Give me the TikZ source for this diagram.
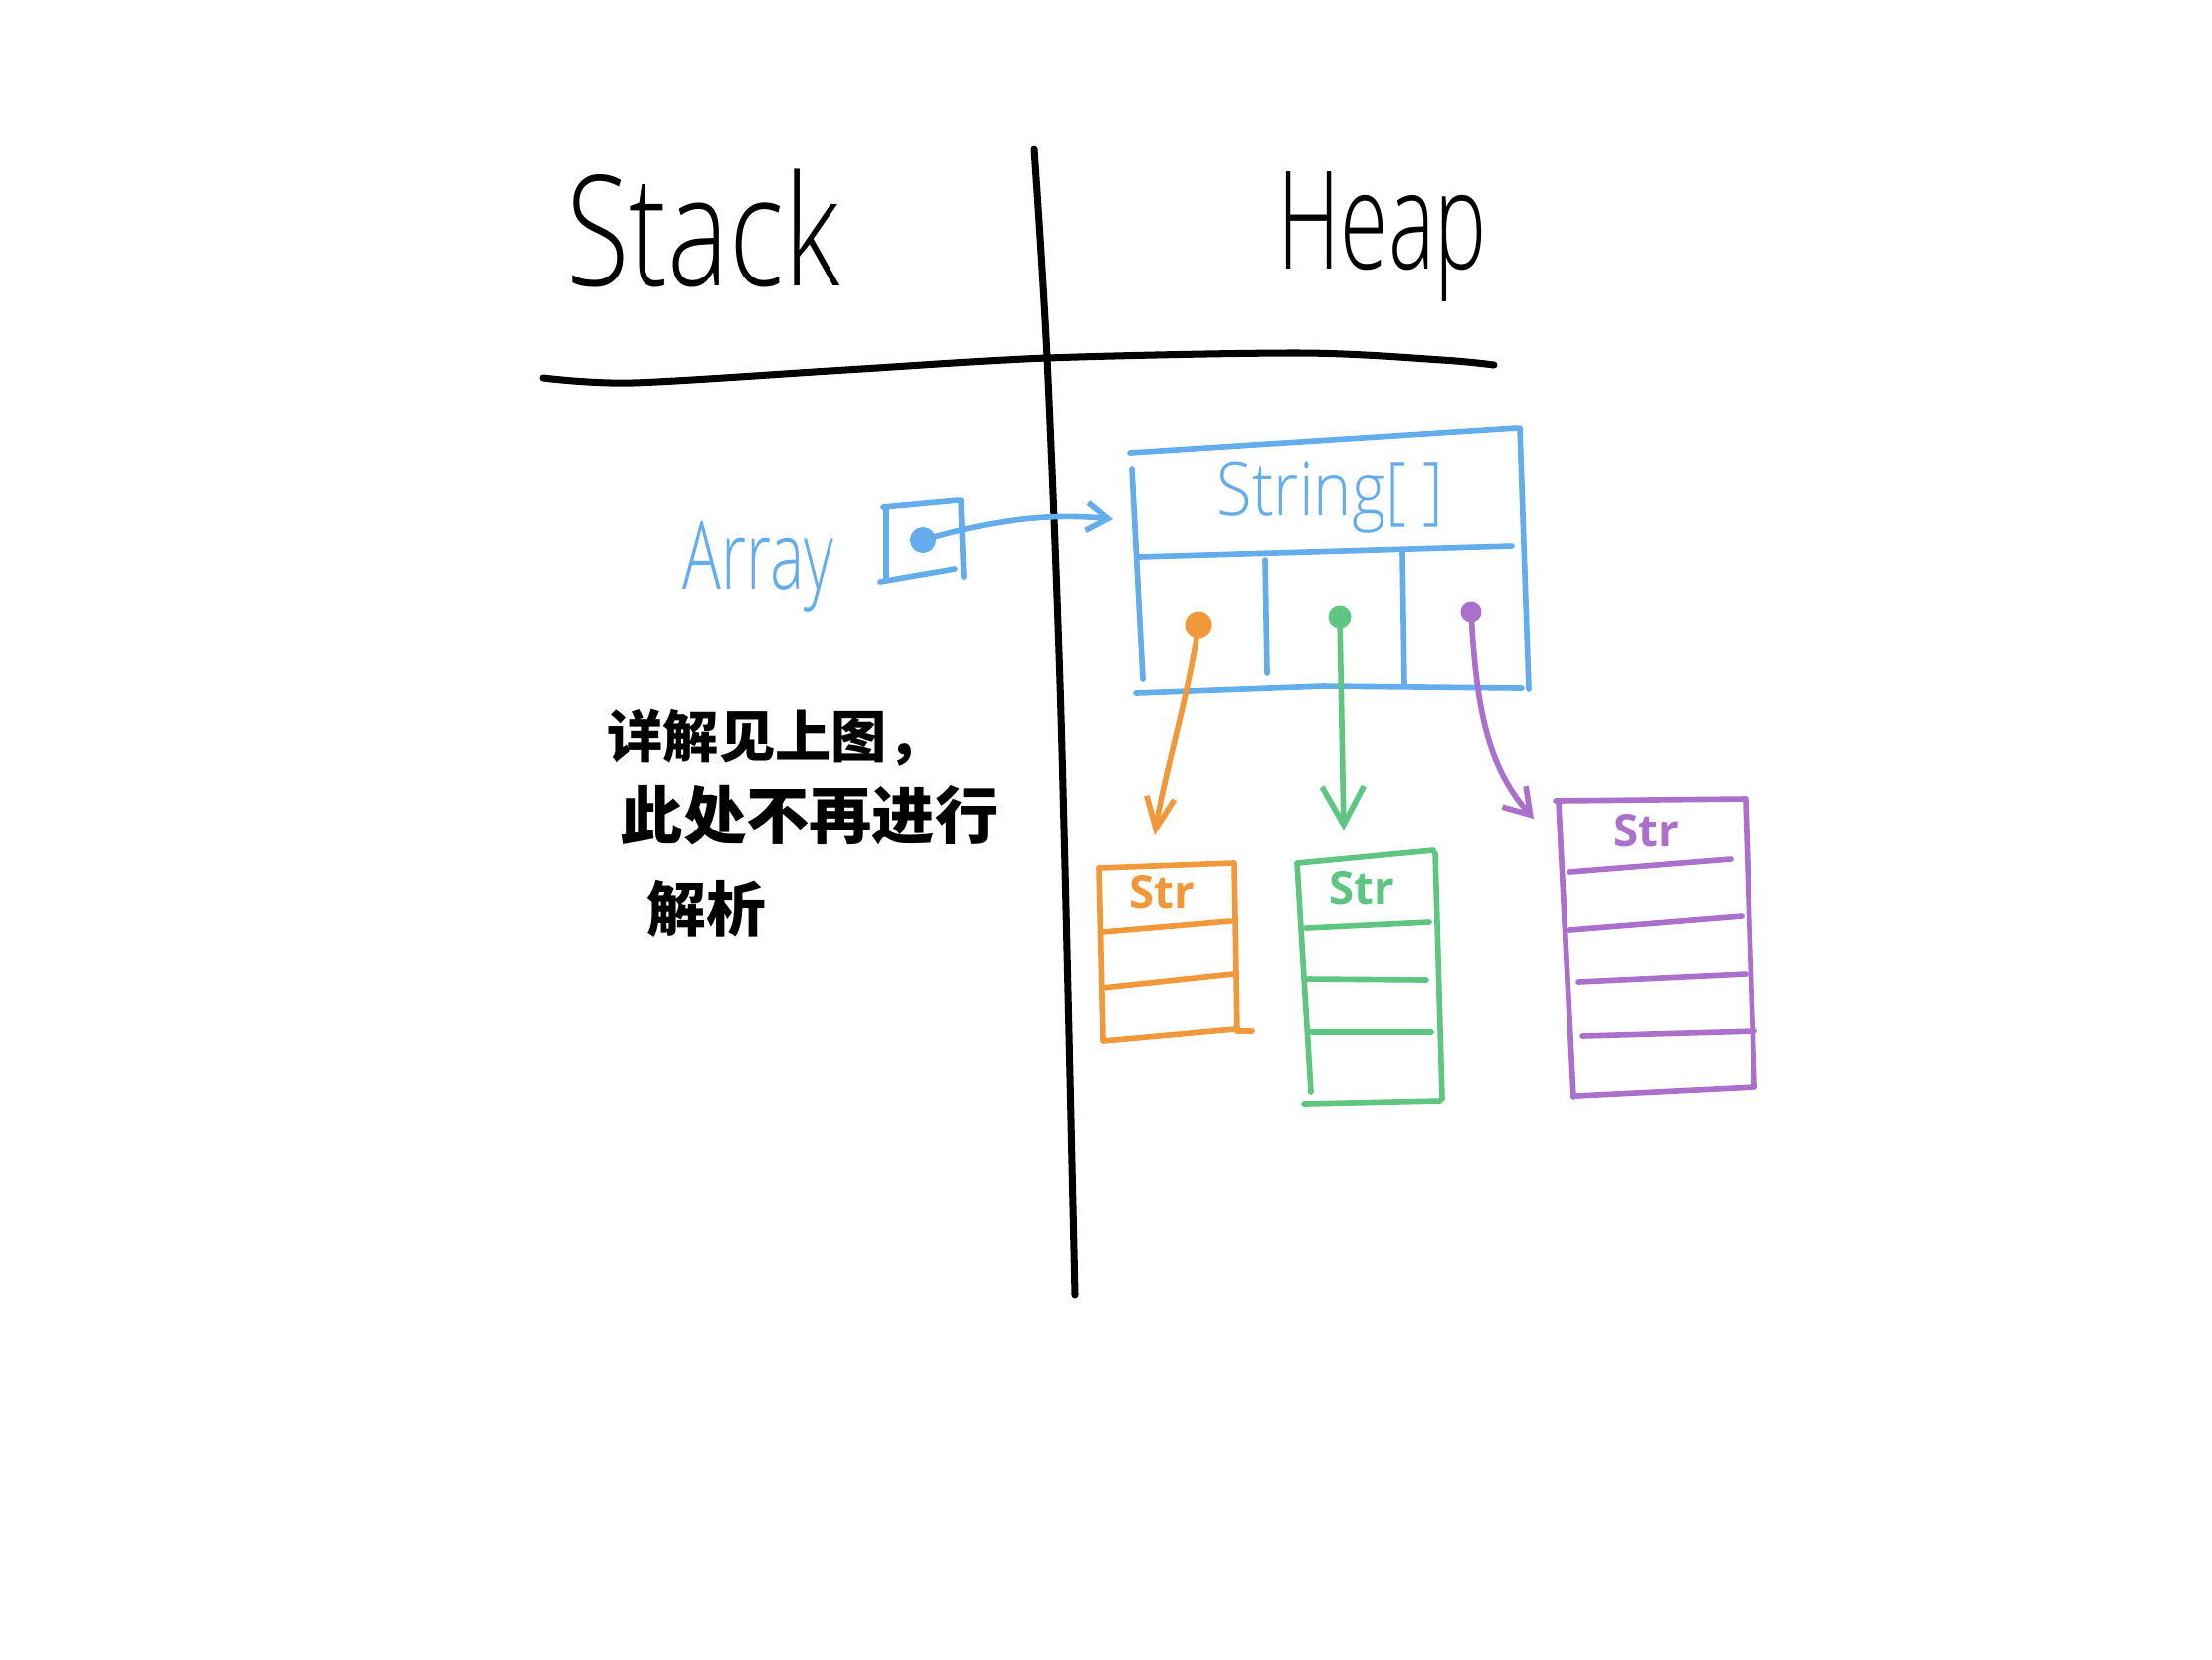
\documentclass[tikz,border=0pt]{standalone}
\usepackage{fontspec}
\usepackage{graphicx}
\setmainfont{Open Sans}
\newfontfamily\thinf{Open Sans Light}
\newfontfamily\cjk{Noto Sans CJK SC}
\usetikzlibrary{arrows.meta}
\definecolor{cblue}{RGB}{99,173,236}
\definecolor{corange}{RGB}{241,153,58}
\definecolor{cgreen}{RGB}{94,198,128}
\definecolor{cpurple}{RGB}{171,112,203}
\begin{document}
\begin{tikzpicture}[x=0.01cm,y=-0.01cm,line cap=round,line join=round,
  blk/.style={line width=2pt,black},
  bl/.style={line width=1.6pt,cblue},
  orp/.style={line width=1.6pt,corange},
  grp/.style={line width=1.6pt,cgreen},
  pup/.style={line width=1.6pt,cpurple},
  dot/.style={circle,inner sep=0pt,draw=none},
  lbl/.style={inner sep=0pt,anchor=base west},
  strlbl/.style={inner sep=0pt,anchor=center,font=\bfseries\fontsize{13}{13}\selectfont}]
\useasboundingbox[fill=white] (0,0) rectangle (2224,1668);

% axes
\draw[blk] plot[smooth] coordinates {(1040,150) (1053,360) (1067,720) (1081,1302)};
\draw[blk] plot[smooth] coordinates {(546,380) (636,385) (850,372) (1053,360) (1309,355) (1450,362) (1502,367)};

% titles
\node[lbl,font=\thinf\fontsize{44}{44}\selectfont] (stack) at (569,287) {\scalebox{0.75}[1]{Stack}};
\node[lbl,font=\thinf\fontsize{39}{39}\selectfont] (heap) at (1284,270) {\scalebox{0.64}[1]{Heap}};

% Array variable
\node[lbl,font=\thinf\fontsize{27}{27}\selectfont,text=cblue] (arr) at (686,592) {\scalebox{0.68}[1]{Array}};
\draw[bl] (888,510) -- (963,503);
\draw[bl] (966,503) -- (969,580);
\draw[bl] (885,585) -- (960,572);
\draw[bl] (891,512) -- (891,583);

% String[] box
\draw[bl] (1136,455) -- (1525,430);
\draw[bl] (1528,430) -- (1537,693);
\draw[bl] (1142,697) -- (1330,690) -- (1530,692);
\draw[bl] (1138,472) -- (1149,683);
\draw[bl] (1145,560) -- (1520,549);
\draw[bl] (1272,563) -- (1274,677);
\draw[bl] (1410,555) -- (1412,690);
\node[lbl,font=\thinf\fontsize{21}{21}\selectfont,text=cblue] (strarr) at (1223,518) {\scalebox{0.88}[1]{String[ ]}};

% Orange Str box
\draw[orp] (1105,873) -- (1240,868);
\draw[orp] (1241,868) -- (1244,1037) -- (1259,1037);
\draw[orp] (1109,1047) -- (1241,1035);
\draw[orp] (1105,873) -- (1109,1045);
\draw[orp] (1108,937) -- (1237,926);
\draw[orp] (1108,993) -- (1240,979);
\node[strlbl,text=corange] (ostr) at (1168,897) {Str};

% Green Str box
\draw[grp] (1304,868) -- (1441,855);
\draw[grp] (1443,858) -- (1450,1105);
\draw[grp] (1311,1110) -- (1448,1107);
\draw[grp] (1304,868) -- (1318,1098);
\draw[grp] (1313,933) -- (1437,927);
\draw[grp] (1315,984) -- (1434,985);
\draw[grp] (1318,1038) -- (1439,1038);
\node[strlbl,text=cgreen] (gstr) at (1369,893) {Str};

% Purple Str box
\draw[pup] (1564,805) -- (1755,803);
\draw[pup] (1755,805) -- (1764,1093);
\draw[pup] (1764,1093) -- (1585,1102);
\draw[pup] (1567,807) -- (1582,1103);
\draw[pup] (1578,877) -- (1740,864);
\draw[pup] (1578,935) -- (1751,921);
\draw[pup] (1587,987) -- (1755,979);
\draw[pup] (1591,1042) -- (1764,1037);
\node[strlbl,text=cpurple] (pstr) at (1655,835) {Str};

% pointer dots
\node[dot,fill=cblue,minimum size=0.26cm] (ad) at (928,543) {};
\node[dot,fill=corange,minimum size=0.27cm] (od) at (1205,628) {};
\node[dot,fill=cgreen,minimum size=0.23cm] (gd) at (1347,620) {};
\node[dot,fill=cpurple,minimum size=0.21cm] (pd) at (1479,615) {};

% arrow ends
\coordinate (ae) at (1119,522);
\coordinate (oe) at (1161,840);
\coordinate (ge) at (1351,835);
\coordinate (pe) at (1542,823);

\draw[bl,-{Straight Barb[length=6pt,width=8pt]}] (ad.center) .. controls (990,525) and (1050,515) .. (ae);
\draw[orp,-{Straight Barb[length=9pt,width=8pt]}] (od.center) .. controls (1195,700) and (1170,780) .. (oe);
\draw[grp,-{Straight Barb[length=11pt,width=12pt]}] (gd.center) -- (ge);
\draw[pup,-{Straight Barb[length=7pt,width=9pt]}] (pd.center) .. controls (1484,710) and (1495,770) .. (pe);

% Chinese note
\node[inner sep=0pt,anchor=west,font=\cjk\bfseries\fontsize{16}{16}\selectfont] (c1) at (610,742) {详解见上图，};
\node[inner sep=0pt,anchor=west,font=\cjk\bfseries\fontsize{18}{18}\selectfont] (c2) at (623,820) {此处不再进行};
\node[inner sep=0pt,anchor=west,font=\cjk\bfseries\fontsize{17}{17}\selectfont] (c3) at (650,914) {解析};
\end{tikzpicture}
\end{document}
